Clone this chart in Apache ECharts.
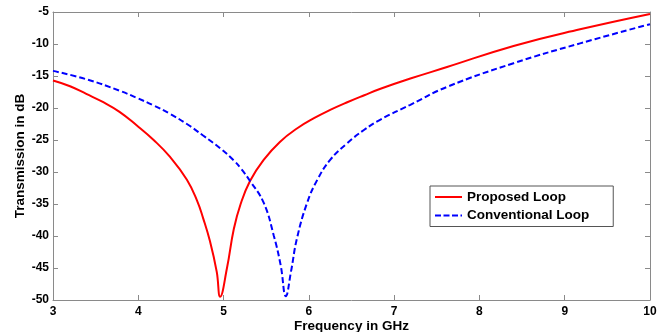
<!DOCTYPE html>
<html><head><meta charset="utf-8">
<script src="https://cdn.jsdelivr.net/npm/echarts@6/dist/echarts.min.js"></script>
<style>html,body{margin:0;padding:0;background:#fff}#c{width:660px;height:332px}</style>
</head><body><div id="c"></div>
<script>
var xTicks = [3,4,5,6,7,8,9,10];
var yTicks = [-50,-45,-40,-35,-30,-25,-20,-15,-10,-5];
var proposedFreq = [3.0,3.2,3.39,3.59,3.78,3.98,4.18,4.37,4.57,4.69,4.76,4.84,4.92,4.96,5.04,5.12,5.2,5.31,5.47,5.66,5.86,6.06,6.25,6.45,6.65,6.84,7.19,7.62,8.4,9.18,10.0];
var proposedVals = [-15.7,-16.6,-17.8,-19.1,-20.6,-22.7,-25.0,-27.6,-31.2,-34.5,-37.2,-40.8,-45.6,-49.5,-45.0,-38.9,-35.0,-31.4,-28.1,-25.3,-23.2,-21.6,-20.3,-19.1,-18.0,-17.0,-15.4,-13.6,-10.3,-7.7,-5.3];
var conventionalFreq = [3.0,3.39,3.78,3.98,4.18,4.37,4.57,4.76,4.96,5.12,5.2,5.31,5.47,5.59,5.67,5.73,5.79,5.86,5.98,6.1,6.25,6.45,6.65,6.84,7.19,7.62,8.4,9.18,10.0];
var conventionalVals = [-14.2,-15.5,-17.3,-18.4,-19.6,-20.9,-22.5,-24.3,-26.3,-28.2,-29.4,-31.4,-34.8,-40.0,-44.6,-49.4,-45.6,-40.4,-34.8,-31.2,-28.1,-25.5,-23.4,-21.8,-19.5,-16.7,-13.0,-9.9,-6.9];
var seriesNames = ['Proposed Loop','Conventional Loop'];

function pairs(xs, ys){ return xs.map(function(x,i){ return [x, ys[i]]; }); }
var font = 'Liberation Sans, Arial, sans-serif';
var chart = echarts.init(document.getElementById('c'));
var lbl = {color:'#000', fontWeight:'bold', fontSize:12, fontFamily:font};
var titleStyle = {color:'#000', fontWeight:'bold', fontSize:13.5, fontFamily:font};
var axisCol = '#8a8a8a';
chart.setOption({
  animation:false,
  grid:{left:53, right:10, top:12, bottom:32, containLabel:false, outerBoundsMode:'none'},
  legend:{
    data:[
      {name:seriesNames[0], icon:'path://M0,0H27V2H0Z', itemStyle:{color:'#ff0000'}},
      {name:seriesNames[1], icon:'path://M0,0H6V2H0Z M8.5,0H14.5V2H8.5Z M17,0H23V2H17Z M25.5,0H27V2H25.5Z', itemStyle:{color:'#0000ff'}}
    ],
    orient:'vertical', left:430, top:186,
    itemWidth:27, itemHeight:2, itemGap:2.5,
    borderColor:'#555', borderWidth:1, padding:[3,24,3,5],
    backgroundColor:'#fff',
    textStyle:{color:'#000', fontWeight:'bold', fontSize:13.5, lineHeight:16, fontFamily:font}
  },
  xAxis:[{
    type:'value', min:3, max:10, interval:1,
    name:'Frequency in GHz', nameLocation:'middle', nameGap:19, nameMoveOverlap:false,
    nameTextStyle:titleStyle,
    axisLine:{show:true, onZero:false, lineStyle:{color:axisCol}},
    axisTick:{show:true, inside:true, length:5, lineStyle:{color:axisCol}},
    axisLabel:Object.assign({margin:6}, lbl),
    splitLine:{show:false}
  },{
    type:'value', min:3, max:10, interval:1, position:'top',
    axisLine:{show:true, lineStyle:{color:axisCol}},
    axisTick:{show:true, inside:true, length:5, lineStyle:{color:axisCol}},
    axisLabel:{show:false}, splitLine:{show:false}
  }],
  yAxis:[{
    type:'value', min:-50, max:-5, interval:5,
    name:'Transmission in dB', nameLocation:'middle', nameGap:26, nameRotate:90, nameMoveOverlap:false,
    nameTextStyle:titleStyle,
    axisLine:{show:true, onZero:false, lineStyle:{color:axisCol}},
    axisTick:{show:true, inside:true, length:5, lineStyle:{color:axisCol}},
    axisLabel:Object.assign({margin:4}, lbl),
    splitLine:{show:false}
  },{
    type:'value', min:-50, max:-5, interval:5, position:'right',
    axisLine:{show:true, lineStyle:{color:axisCol}},
    axisTick:{show:true, inside:true, length:5, lineStyle:{color:axisCol}},
    axisLabel:{show:false}, splitLine:{show:false}
  }],
  series:[{
    name:seriesNames[0], type:'line', data:pairs(proposedFreq, proposedVals),
    symbol:'none', showSymbol:false, smooth:0.45, color:'#ff0000',
    lineStyle:{color:'#ff0000', width:2}
  },{
    name:seriesNames[1], type:'line', data:pairs(conventionalFreq, conventionalVals),
    symbol:'none', showSymbol:false, smooth:0.45, color:'#0000ff',
    lineStyle:{color:'#0000ff', width:2, type:[6,3]}
  }]
});
</script></body></html>
